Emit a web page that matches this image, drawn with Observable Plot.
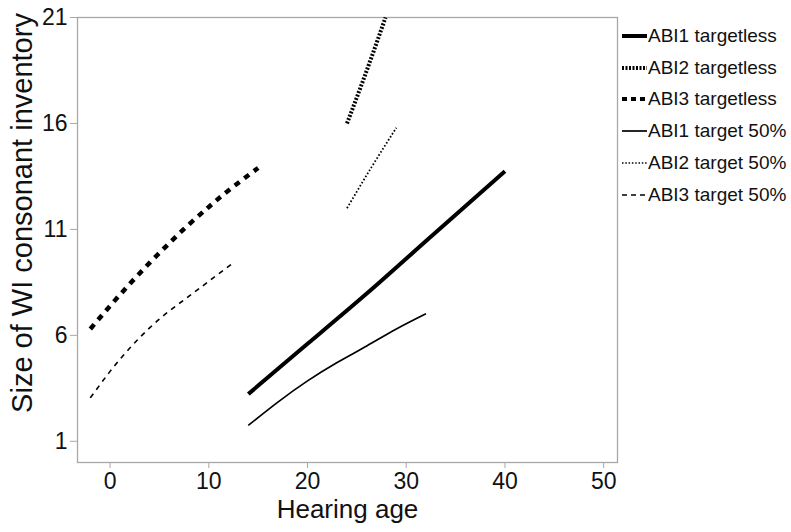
<!DOCTYPE html>
<html><head><meta charset="utf-8">
<script src="https://cdn.jsdelivr.net/npm/d3@7"></script>
<script src="https://cdn.jsdelivr.net/npm/@observablehq/plot@0.6"></script>
<style>
body{margin:0;background:#fff;font-family:"Liberation Sans",Arial,Helvetica,sans-serif;}
#wrap{position:relative;width:791px;height:532px;}
#legend{position:absolute;left:622px;top:20px;font-size:19px;color:#111;}
.item{display:flex;align-items:center;height:31.8px;white-space:nowrap;}
.item svg{margin-right:1px;}
</style></head><body><div id="wrap"></div>
<script>
// Series names
const seriesNames = ["ABI1 targetless","ABI2 targetless","ABI3 targetless","ABI1 target 50%","ABI2 target 50%","ABI3 target 50%"];
// Hearing age (x) and inventory size (y) per series
const abi1TargetlessX = [14, 20, 26, 32, 40];
const abi1TargetlessY = [3.23, 5.6, 7.97, 10.45, 13.75];
const abi2TargetlessX = [24, 26, 27.9];
const abi2TargetlessY = [16.0, 18.5, 21.0];
const abi3TargetlessX = [-2, 0, 2, 4, 6, 8, 10, 12, 15];
const abi3TargetlessY = [6.3, 7.39, 8.43, 9.42, 10.35, 11.24, 12.06, 12.84, 13.9];
const abi1Target50X = [14, 17, 20, 23, 26, 29, 32];
const abi1Target50Y = [1.75, 2.85, 3.85, 4.72, 5.5, 6.3, 7.02];
const abi2Target50X = [24, 26.5, 29];
const abi2Target50Y = [12.0, 13.95, 15.8];
const abi3Target50X = [-2, 0, 2, 4, 6, 8, 10, 12.4];
const abi3Target50Y = [3.05, 4.3, 5.4, 6.35, 7.15, 7.85, 8.55, 9.4];
// Axis ticks
const xTicks = [0, 10, 20, 30, 40, 50];
const yTicks = [1, 6, 11, 16, 21];

const seriesX = [abi1TargetlessX, abi2TargetlessX, abi3TargetlessX, abi1Target50X, abi2Target50X, abi3Target50X];
const seriesY = [abi1TargetlessY, abi2TargetlessY, abi3TargetlessY, abi1Target50Y, abi2Target50Y, abi3Target50Y];
const styles = [
  {w: 4, dash: null, ldash: null},
  {w: 4, dash: "2,1.6", ldash: "2,1.5"},
  {w: 4.5, dash: "6,6", ldash: "5,4"},
  {w: 1.7, dash: null, ldash: null},
  {w: 1.8, dash: "1.6,2", ldash: "1.5,1.8"},
  {w: 1.6, dash: "5,5", ldash: "5,4"}
];
const rows = seriesNames.map((name, i) => seriesX[i].map((x, j) => ({name, x, y: seriesY[i][j]})));

const gray = "#a8a8a8";
const plot = Plot.plot({
  width: 791, height: 532,
  marginLeft: 77, marginRight: 174, marginTop: 17, marginBottom: 70,
  style: {fontFamily: '"Liberation Sans", Arial, sans-serif', background: "#fff"},
  x: {domain: [-3.3, 51.4]},
  y: {domain: [0, 21]},
  marks: [
    Plot.frame({stroke: gray, strokeWidth: 1.3}),
    Plot.axisX({ticks: xTicks, tickSize: 6, tickPadding: 4, fontSize: 23, stroke: gray, fill: "#111", label: null}),
    Plot.axisY({ticks: yTicks, tickSize: 7, tickPadding: 3, fontSize: 23, stroke: gray, fill: "#111", label: null}),
    ...rows.map((r, i) => Plot.line(r, {x: "x", y: "y", curve: "natural", stroke: "#000", strokeWidth: styles[i].w, strokeDasharray: styles[i].dash, strokeLinecap: "butt", clip: true})),
    Plot.text(["Hearing age"], {frameAnchor: "bottom", dy: 55, fontSize: 26, fill: "#111", text: d => d}),
    Plot.text(["Size of WI consonant inventory"], {frameAnchor: "left", dx: -55, dy: -27, rotate: -90, textAnchor: "middle", fontSize: 29, fill: "#111", text: d => d})
  ]
});
const wrap = document.getElementById("wrap");
wrap.appendChild(plot);

const legend = d3.select(wrap).append("div").attr("id", "legend");
seriesNames.forEach((name, i) => {
  const it = legend.append("div").attr("class", "item");
  const s = it.append("svg").attr("width", 25).attr("height", 10);
  s.append("line").attr("x1", 0).attr("x2", 25).attr("y1", 5).attr("y2", 5)
    .attr("stroke", "#000").attr("stroke-width", i < 3 ? 4 : 1.7)
    .attr("stroke-dasharray", styles[i].ldash);
  it.append("span").text(name);
});
</script></body></html>
